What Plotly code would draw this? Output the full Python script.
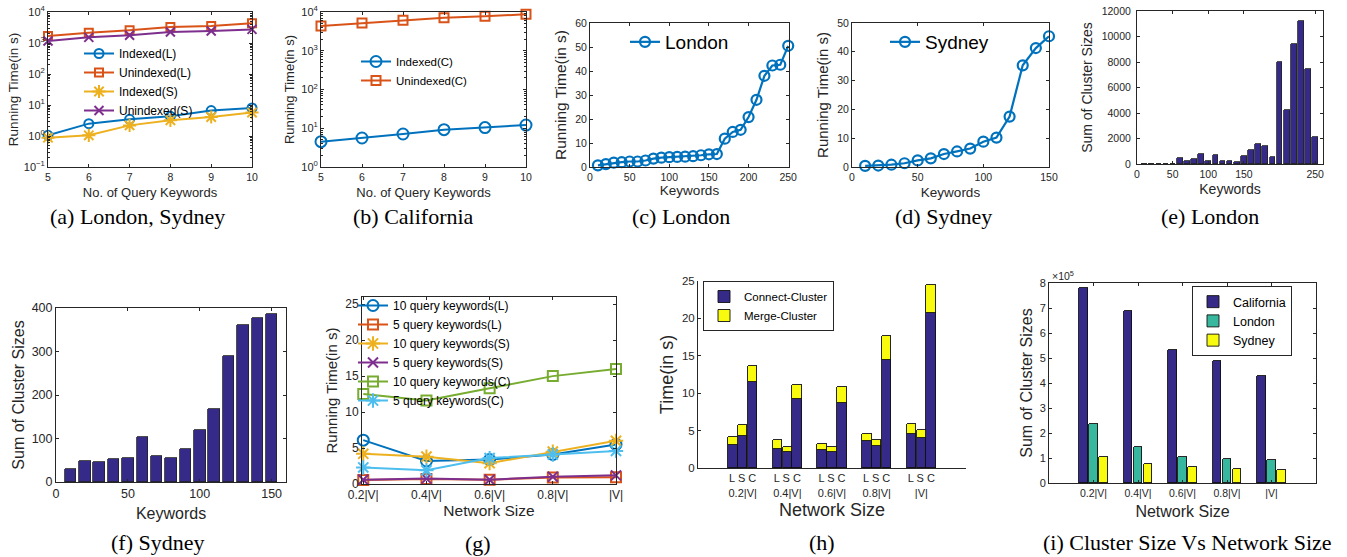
import numpy as np
import plotly.graph_objects as go

W, H = 1347, 557

# ---------------- data ----------------
# (a) London, Sydney
query_kw = [5, 6, 7, 8, 9, 10]
a_indexed_L = [1.05, 2.5, 3.45, 4.3, 6.6, 8.0]
a_unindexed_L = [1680, 2150, 2570, 3280, 3530, 4300]
a_indexed_S = [0.88, 1.05, 2.2, 3.2, 4.1, 5.7]
a_unindexed_S = [1160, 1520, 1770, 2260, 2440, 2750]
# (b) California
b_indexed_C = [4.5, 5.6, 7.1, 9.2, 10.4, 12.1]
b_unindexed_C = [4350, 5200, 6100, 7140, 7730, 8700]
# (c) London running time
c_keywords = [10, 20, 30, 40, 50, 60, 70, 80, 90, 100, 110, 120, 130, 140, 150,
              160, 170, 180, 190, 200, 210, 220, 230, 240, 250]
c_time = [0.7, 1.2, 1.8, 2.0, 2.3, 2.3, 2.7, 3.5, 3.9, 4.1, 4.2, 4.3, 4.5, 4.9, 5.3,
          5.4, 11.8, 14.6, 15.5, 20.8, 28.0, 38.0, 42.3, 42.6, 50.5]
# (d) Sydney running time
d_keywords = [10, 20, 30, 40, 50, 60, 70, 80, 90, 100, 110, 120, 130, 140, 150]
d_time = [0.4, 0.5, 0.8, 1.3, 2.3, 3.0, 4.5, 5.4, 6.4, 8.8, 10.2, 17.5, 35.3, 41.3, 45.4]
# (e) London cluster sizes
e_keywords = c_keywords
e_sizes = [0, 0, 0, 10, 30, 500, 200, 400, 780, 200, 730, 260, 260, 160, 600,
           1120, 1590, 1430, 550, 8000, 4200, 9420, 11190, 7490, 2140]
# (f) Sydney cluster sizes
f_keywords = d_keywords
f_sizes = [30, 49, 45, 54, 56, 103, 60, 55, 76, 120, 167, 290, 360, 378, 386]
# (g) running time vs network size
net_sizes = ["0.2|V|", "0.4|V|", "0.6|V|", "0.8|V|", "|V|"]
g_10L = [6.1, 3.2, 3.4, 4.1, 5.5]
g_5L = [0.55, 0.7, 0.6, 0.9, 0.95]
g_10S = [4.2, 3.8, 2.9, 4.5, 6.0]
g_5S = [0.6, 0.75, 0.6, 1.0, 1.2]
g_10C = [12.5, 11.6, 13.3, 15.0, 16.0]
g_5C = [2.3, 1.9, 3.6, 4.1, 4.6]
# (h) connect / merge cluster time per dataset
h_datasets = ["L", "S", "C"]
h_connect = {"L": [3.1, 2.5, 2.4, 3.6, 4.5],
             "S": [4.3, 2.1, 2.1, 2.9, 4.05],
             "C": [11.5, 9.2, 8.7, 14.4, 20.7]}
h_merge = {"L": [1.0, 1.2, 0.8, 1.0, 1.4],
           "S": [1.4, 0.7, 0.7, 0.9, 1.05],
           "C": [2.1, 1.9, 2.1, 3.3, 3.7]}
# (i) sum of cluster sizes vs network size
i_california = [780000, 690000, 533000, 487000, 428000]
i_london = [235000, 145000, 106000, 96000, 93000]
i_sydney = [105000, 75000, 66000, 58000, 53000]

# ---------------- styles ----------------
NAVY = "#352A87"; TEAL = "#37B89E"; YEL = "#F9FB0E"
BLUE = "#0072BD"; ORANGE = "#D95319"; GOLD = "#EDB120"
PURPLE = "#7E2F8E"; GREEN = "#77AC30"; CYAN = "#4DBEEE"
AXC = "#262626"
SANS = "Liberation Sans, Arial, sans-serif"
SERIF = "Liberation Serif, Times New Roman, serif"


def px(x):
    return x / W


def py(y):
    return 1 - y / H


def dom(x0, x1, y0, y1):
    return [px(x0), px(x1)], [py(y1), py(y0)]


def axis(domain, tsize, title, tfs, standoff=3, tls=0, **kw):
    d = dict(domain=domain, showline=True, linecolor=AXC, linewidth=1, mirror="ticks",
             ticks="inside", ticklen=3, tickcolor=AXC, tickwidth=1, showgrid=False,
             zeroline=False, tickfont=dict(family=SANS, size=tsize, color=AXC),
             ticklabelstandoff=tls, ticklabeloverflow="allow",
             title=dict(text=title, font=dict(family=SANS, size=tfs, color=AXC), standoff=standoff))
    d.update(kw)
    return d


def leg(x, y, size, border=False):
    return dict(x=px(x), y=py(y), xanchor="left", yanchor="top", xref="paper", yref="paper",
                bgcolor="rgba(255,255,255,0)" if not border else "white",
                borderwidth=1 if border else 0, bordercolor=AXC,
                font=dict(family=SANS, size=size, color="#000"), tracegroupgap=0,
                traceorder="normal", itemwidth=30)


def line(x, y, name, color, symbol, size, n, legend, lw=2, showlegend=True):
    sfx = "" if n == 1 else str(n)
    return go.Scatter(x=x, y=y, name=name, mode="lines+markers",
                      line=dict(color=color, width=lw),
                      marker=dict(symbol=symbol, size=size, color=color,
                                  line=dict(color=color, width=lw)),
                      xaxis="x" + sfx, yaxis="y" + sfx, legend=legend,
                      cliponaxis=False, showlegend=showlegend)


fig = go.Figure()

# (a)
for y, nm, c, s, sz in [(a_indexed_L, "Indexed(L)", BLUE, "circle-open", 9),
                        (a_unindexed_L, "Unindexed(L)", ORANGE, "square-open", 8),
                        (a_indexed_S, "Indexed(S)", GOLD, "asterisk-open", 11),
                        (a_unindexed_S, "Unindexed(S)", PURPLE, "x-thin-open", 9)]:
    fig.add_trace(line(query_kw, y, nm, c, s, sz, 1, "legend"))
# (b)
fig.add_trace(line(query_kw, b_indexed_C, "Indexed(C)", BLUE, "circle-open", 11, 2, "legend2"))
fig.add_trace(line(query_kw, b_unindexed_C, "Unindexed(C)", ORANGE, "square-open", 9, 2, "legend2"))
# (c)
fig.add_trace(line(c_keywords, c_time, "London", BLUE, "circle-open", 10, 3, "legend3", lw=2.2))
# (d)
fig.add_trace(line(d_keywords, d_time, "Sydney", BLUE, "circle-open", 10, 4, "legend4", lw=2.2))
# (e)
fig.add_trace(go.Bar(x=e_keywords, y=e_sizes, width=8, marker=dict(color=NAVY, line=dict(color="#222", width=0.8)),
                     xaxis="x5", yaxis="y5", showlegend=False))
# (f)
fig.add_trace(go.Bar(x=f_keywords, y=f_sizes, width=8, marker=dict(color=NAVY, line=dict(color="#222", width=0.8)),
                     xaxis="x6", yaxis="y6", showlegend=False))
# (g)
g_x = list(range(1, len(net_sizes) + 1))
for y, nm, c, s, sz in [(g_10L, "10 query keywords(L)", BLUE, "circle-open", 11),
                        (g_5L, "5 query keywords(L)", ORANGE, "square-open", 10),
                        (g_10S, "10 query keywords(S)", GOLD, "asterisk-open", 12),
                        (g_5S, "5 query keywords(S)", PURPLE, "x-thin-open", 10),
                        (g_10C, "10 query keywords(C)", GREEN, "square-open", 10),
                        (g_5C, "5 query keywords(C)", CYAN, "asterisk-open", 12)]:
    fig.add_trace(line(g_x, y, nm, c, s, sz, 7, "legend5"))
# (h)
groups = np.arange(1, len(net_sizes) + 1)
h_off = {"L": -0.22, "S": 0.0, "C": 0.22}
hx = np.concatenate([groups + h_off[d] for d in h_datasets]).tolist()
hc = sum([h_connect[d] for d in h_datasets], [])
hm = sum([h_merge[d] for d in h_datasets], [])
fig.add_trace(go.Bar(x=hx, y=hc, width=0.215, name="Connect-Cluster",
                     marker=dict(color=NAVY, line=dict(color="#111", width=0.9)),
                     xaxis="x8", yaxis="y8", legend="legend6"))
fig.add_trace(go.Bar(x=hx, y=hm, width=0.215, name="Merge-Cluster",
                     marker=dict(color=YEL, line=dict(color="#111", width=0.9)),
                     xaxis="x8", yaxis="y8", legend="legend6"))
# (i)
for vals, nm, c, off in [(i_california, "California", NAVY, -0.224),
                         (i_london, "London", TEAL, 0.0),
                         (i_sydney, "Sydney", YEL, 0.224)]:
    fig.add_trace(go.Bar(x=(groups + off).tolist(), y=vals, width=0.187, name=nm,
                         marker=dict(color=c, line=dict(color="#111", width=0.9)),
                         xaxis="x9", yaxis="y9", legend="legend7"))

# ---------------- axes ----------------
lay = {}
minor_log = [m * 10.0 ** k for k in range(-1, 4) for m in range(2, 10)]
logtext = lambda ks: ["10<sup>%s</sup>" % (("\u2212%d" % -k) if k < 0 else k) for k in ks]

xd, yd = dom(48, 252, 12, 167)
lay["xaxis"] = axis(xd, 10.5, "No. of Query Keywords", 13, standoff=6, anchor="y", range=[5, 10], dtick=1)
lay["yaxis"] = axis(yd, 11, "Running Time(in s)", 13.5, standoff=2, anchor="x", type="log", range=[-1, 4],
                    tickmode="array", tickvals=[10.0 ** k for k in range(-1, 5)], ticktext=logtext(range(-1, 5)),
                    minor=dict(ticks="inside", ticklen=2, tickcolor=AXC, tickmode="array", tickvals=minor_log))

xd, yd = dom(321, 526, 12, 167)
lay["xaxis2"] = axis(xd, 10.5, "No. of Query Keywords", 13, standoff=6, anchor="y2", range=[5, 10], dtick=1)
lay["yaxis2"] = axis(yd, 11, "Running Time(in s)", 13, standoff=3, anchor="x2", type="log", range=[0, 4],
                     tickmode="array", tickvals=[10.0 ** k for k in range(0, 5)], ticktext=logtext(range(0, 5)),
                     minor=dict(ticks="inside", ticklen=2, tickcolor=AXC, tickmode="array", tickvals=minor_log))

xd, yd = dom(590, 789, 23, 167)
lay["xaxis3"] = axis(xd, 10.5, "Keywords", 13.5, standoff=3, anchor="y3", range=[0, 251], dtick=50)
lay["yaxis3"] = axis(yd, 10.5, "Running Time(in s)", 15.5, standoff=4, anchor="x3", range=[0, 60], dtick=10)

xd, yd = dom(852, 1049, 23, 167)
lay["xaxis4"] = axis(xd, 10.5, "Keywords", 13.5, standoff=5, anchor="y4", range=[0, 150], dtick=50)
lay["yaxis4"] = axis(yd, 10.5, "Running Time(in s)", 15, standoff=4, anchor="x4", range=[0, 50], dtick=10)

xd, yd = dom(1137, 1323, 11, 164)
lay["xaxis5"] = axis(xd, 10.5, "Keywords", 14, standoff=5, anchor="y5", range=[0, 261],
                     tickmode="array", tickvals=[0, 50, 100, 150, 250])
lay["yaxis5"] = axis(yd, 10.5, "Sum of Cluster Sizes", 14, standoff=5, tls=3, anchor="x5", range=[0, 12000],
                     dtick=2000, tickformat="d")

xd, yd = dom(56, 286, 308, 482)
lay["xaxis6"] = axis(xd, 12.5, "Keywords", 16, standoff=7, anchor="y6", range=[0, 160], dtick=50)
lay["yaxis6"] = axis(yd, 12.5, "Sum of Cluster Sizes", 16, standoff=3, anchor="x6", range=[0, 400], dtick=100)

xd, yd = dom(362, 616, 297, 484)
lay["xaxis7"] = axis(xd, 12, "Network Size", 15.5, standoff=3, anchor="y7", range=[0.98, 5],
                     tickmode="array", tickvals=g_x, ticktext=net_sizes)
lay["yaxis7"] = axis(yd, 12, "Running Time(in s)", 15, standoff=3, anchor="x7", range=[0, 26], dtick=5)

xd, yd = dom(698, 966, 281, 468)
lay["xaxis8"] = axis(xd, 11, "", 18, standoff=0, anchor="y8", range=[0, 6], mirror=False, ticks="",
                     tickmode="array", tickvals=groups.tolist(),
                     ticktext=["L S C<br>" + s for s in net_sizes])
lay["yaxis8"] = axis(yd, 11.5, "Time(in s)", 18, standoff=3, anchor="x8", range=[0, 25], dtick=5, mirror=False)

xd, yd = dom(1049, 1316, 283, 483)
lay["xaxis9"] = axis(xd, 10.5, "Network Size", 16, standoff=8, anchor="y9", range=[0, 6],
                     tickmode="array", tickvals=groups.tolist(), ticktext=net_sizes)
lay["yaxis9"] = axis(yd, 11, "Sum of Cluster Sizes", 16, standoff=3, anchor="x9", range=[0, 800000],
                     tickmode="array", tickvals=[k * 100000 for k in range(9)],
                     ticktext=[str(k) for k in range(9)])

# ---------------- legends ----------------
lay["legend"] = leg(79, 39, 12)
lay["legend2"] = leg(356, 47, 11.5)
lay["legend3"] = leg(625, 23, 19)
lay["legend4"] = leg(885, 23, 19)
lay["legend5"] = leg(353, 291, 12)
lay["legend6"] = leg(703, 281, 11.5, border=True)
lay["legend7"] = leg(1192, 286, 12.5, border=True)

# ---------------- captions ----------------
captions = [("(a) London, Sydney", 137, 217), ("(b) California", 413, 217), ("(c) London", 681, 217),
            ("(d) Sydney", 943, 217), ("(e) London", 1210, 217), ("(f) Sydney", 157, 542),
            ("(g)", 478, 543), ("(h)", 822, 542), ("(i) Cluster Size Vs Network Size", 1187, 542)]
ann = [dict(text=t, x=px(x), y=py(y), xref="paper", yref="paper", xanchor="center", yanchor="middle",
            showarrow=False, font=dict(family=SERIF, size=22, color="#000")) for t, x, y in captions]
ann.append(dict(text="\u00d710<sup>5</sup>", x=px(1050), y=py(276), xref="paper", yref="paper",
                xanchor="left", yanchor="middle", showarrow=False, font=dict(family=SANS, size=10.5, color=AXC)))
# x-axis title of panel (h), placed under its two-line tick labels
ann.append(dict(text="Network Size", x=px(832), y=py(510), xref="paper", yref="paper",
                xanchor="center", yanchor="middle", showarrow=False, font=dict(family=SANS, size=18, color=AXC)))

fig.update_layout(width=W, height=H, margin=dict(l=0, r=0, t=0, b=0), autosize=False,
                  paper_bgcolor="white", plot_bgcolor="white", barmode="stack", bargap=0,
                  annotations=ann, template="none", **lay)

fig.write_html("out.html", config={"displayModeBar": False},
               post_script="document.body.style.margin = '0';")
